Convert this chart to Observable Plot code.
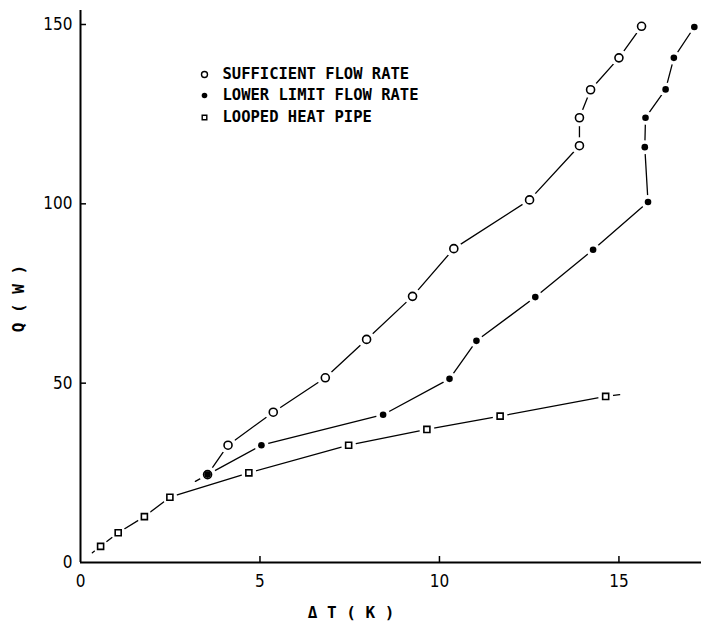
<!DOCTYPE html>
<html>
<head>
<meta charset="utf-8">
<script src="https://cdn.jsdelivr.net/npm/d3@7"></script>
<script src="https://cdn.jsdelivr.net/npm/@observablehq/plot@0.6"></script>
<style>
  html, body { margin: 0; padding: 0; background: #fff; }
  #chart { width: 701px; height: 624px; }
</style>
</head>
<body>
<div id="chart"></div>
<script>
// ---- data ----
const sufficientX = [3.54, 4.11, 5.37, 6.82, 7.97, 9.25, 10.40, 12.51, 13.90, 13.90, 14.21, 15.00, 15.63];
const sufficientY = [24.5, 32.7, 41.9, 51.5, 62.2, 74.2, 87.5, 101.1, 116.2, 124.0, 131.8, 140.7, 149.5];
const lowerX = [3.54, 5.04, 8.43, 10.28, 11.03, 12.67, 14.28, 15.81, 15.72, 15.74, 16.30, 16.53, 17.10];
const lowerY = [24.5, 32.7, 41.2, 51.2, 61.8, 74.0, 87.2, 100.5, 115.8, 124.0, 131.9, 140.7, 149.3];
const lhpX = [0.56, 1.05, 1.78, 2.49, 4.69, 7.47, 9.65, 11.69, 14.63];
const lhpY = [4.5, 8.3, 12.8, 18.2, 25.0, 32.7, 37.1, 40.8, 46.3];
// extrapolated line ends (no marker)
const lhpEndsX = [0.33, 15.02];
const lhpEndsY = [2.7, 46.8];
const sufficientExtX = [3.20, 3.54];
const sufficientExtY = [22.6, 24.5];
const xTicks = [0, 5, 10, 15];
const yTicks = [0, 50, 100, 150];
const legendLabels = ["SUFFICIENT FLOW RATE", "LOWER LIMIT FLOW RATE", "LOOPED HEAT PIPE"];
const xLabel = "Δ T ( K )";
const yLabel = "Q ( W )";

// ---- tables ----
const zip = (xs, ys) => xs.map((x, i) => ({x, y: ys[i]}));
const suff = zip(sufficientX, sufficientY);
const lower = zip(lowerX, lowerY);
const lhp = zip(lhpX, lhpY);
const lhpLine = [{x: lhpEndsX[0], y: lhpEndsY[0]}, ...lhp, {x: lhpEndsX[1], y: lhpEndsY[1]}];
const ext = zip(sufficientExtX, sufficientExtY);

const mono = "'DejaVu Sans Mono', 'Liberation Mono', monospace";
const narrow = "'Liberation Sans Narrow', 'DejaVu Sans Condensed', 'Roboto', sans-serif";

const W = 701, H = 624, mL = 80, mR = 0, mT = 10, mB = 62;
const frameW = W - mL - mR, frameH = H - mT - mB;
const tickLen = 6;
const legendRowY = [64, 85, 107];

const chart = Plot.plot({
  width: W,
  height: H,
  marginLeft: mL,
  marginRight: mR,
  marginTop: mT,
  marginBottom: mB,
  style: {background: "#fff", color: "#000", fontFamily: narrow, fontSize: "17px"},
  x: {domain: [0, 17.3], ticks: xTicks, label: null},
  y: {domain: [0, 153.9], ticks: yTicks, label: null},
  marks: [
    Plot.axisX({ticks: xTicks, tickSize: 0, tickPadding: 12, tickFormat: d => String(d), fontSize: 17, label: null}),
    Plot.axisY({ticks: yTicks, tickSize: 0, tickPadding: 8, tickFormat: d => String(d), fontSize: 17, label: null}),
    // inward ticks
    Plot.tickX(xTicks.slice(1), {x: d => d, insetTop: frameH - tickLen, stroke: "#000", strokeWidth: 1.5}),
    Plot.tickY(yTicks.slice(1), {y: d => d, insetRight: frameW - tickLen, stroke: "#000", strokeWidth: 1.5}),
    Plot.ruleX([0], {stroke: "#000", strokeWidth: 2}),
    Plot.ruleY([0], {stroke: "#000", strokeWidth: 2}),
    // connecting lines
    Plot.line(suff, {x: "x", y: "y", stroke: "#000", strokeWidth: 1.3}),
    Plot.line(lower, {x: "x", y: "y", stroke: "#000", strokeWidth: 1.3}),
    Plot.line(lhpLine, {x: "x", y: "y", stroke: "#000", strokeWidth: 1.3}),
    Plot.line(ext, {x: "x", y: "y", stroke: "#000", strokeWidth: 1.3}),
    // white gaps around markers
    Plot.dot(suff, {x: "x", y: "y", r: 8.5, fill: "#fff", stroke: "none"}),
    Plot.dot(lower, {x: "x", y: "y", r: 7, fill: "#fff", stroke: "none"}),
    Plot.dot(lhp, {x: "x", y: "y", r: 7.5, fill: "#fff", stroke: "none"}),
    // markers
    Plot.dot(suff, {x: "x", y: "y", r: 4, fill: "#fff", stroke: "#000", strokeWidth: 1.6}),
    Plot.dot(lower, {x: "x", y: "y", r: 3.3, fill: "#000", stroke: "none"}),
    Plot.dot(lhp, {x: "x", y: "y", symbol: "square", r: 3.4, fill: "#fff", stroke: "#000", strokeWidth: 1.6}),
    // axis titles
    Plot.text([xLabel], {frameAnchor: "bottom", dx: -40, dy: 50, textAnchor: "middle", lineAnchor: "middle", fontFamily: mono, fontSize: 16, fontWeight: "bold", letterSpacing: 1.5, fill: "#000"}),
    Plot.text([yLabel], {frameAnchor: "left", dx: -62, dy: 12, rotate: -90, textAnchor: "middle", lineAnchor: "middle", fontFamily: mono, fontSize: 16, fontWeight: "bold", letterSpacing: 1.5, fill: "#000"}),
    // legend
    Plot.dot([0], {frameAnchor: "top-left", dx: 124, dy: legendRowY[0], r: 3, fill: "#fff", stroke: "#000", strokeWidth: 1.4}),
    Plot.dot([0], {frameAnchor: "top-left", dx: 124, dy: legendRowY[1], r: 2.8, fill: "#000", stroke: "none"}),
    Plot.dot([0], {frameAnchor: "top-left", dx: 124, dy: legendRowY[2], symbol: "square", r: 2.6, fill: "#fff", stroke: "#000", strokeWidth: 1.4}),
    ...legendLabels.map((label, i) =>
      Plot.text([label], {frameAnchor: "top-left", dx: 142, dy: legendRowY[i], fontFamily: mono, fontSize: 15.5, fontWeight: "bold", textAnchor: "start", lineAnchor: "middle", fill: "#000"})
    )
  ]
});
document.getElementById("chart").appendChild(chart);
</script>
</body>
</html>
